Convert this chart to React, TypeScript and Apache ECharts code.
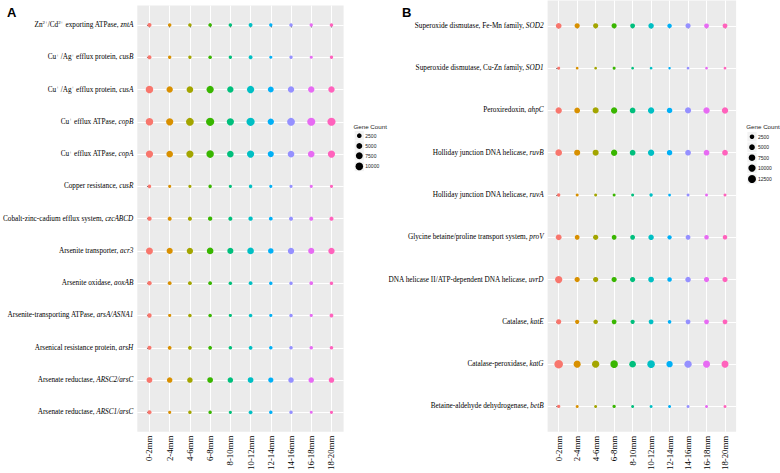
import React, { useEffect, useRef } from 'react';
import * as echarts from 'echarts';

// ---------- shared categories ----------
const depths = ['0-2mm', '2-4mm', '4-6mm', '6-8mm', '8-10mm', '10-12mm', '12-14mm', '14-16mm', '16-18mm', '18-20mm'];
const depthColors = ['#F8766D', '#D89000', '#A3A500', '#39B600', '#00BF7D', '#00BFC4', '#00B0F6', '#9590FF', '#E76BF3', '#FF62BC'];

// ---------- panel A: metal / metalloid resistance genes ----------
const funcA = [
  'Zn^{2+}/Cd^{2+} exporting ATPase, ',
  'Cu^{+} /Ag^{+} efflux protein, ',
  'Cu^{+} /Ag^{+} efflux protein, ',
  'Cu^{+} efflux ATPase, ',
  'Cu^{+} efflux ATPase, ',
  'Copper resistance, ',
  'Cobalt-zinc-cadium efflux system, ',
  'Arsenite transporter, ',
  'Arsenite oxidase, ',
  'Arsenite-transporting ATPase, ',
  'Arsenical resistance protein, ',
  'Arsenate reductase, ',
  'Arsenate reductase, ',
];
const geneA = ['zntA', 'cusB', 'cusA', 'copB', 'copA', 'cusR', 'czcABCD', 'acr3', 'aoxAB', 'arsA/ASNA1', 'arsH', 'ARSC2/arsC', 'ARSC1/arsC'];

const zntA = [1580, 950, 950, 1100, 950, 1400, 780, 950, 780, 950];
const cusB = [1400, 800, 800, 950, 800, 1250, 620, 800, 620, 800];
const cusA = [9700, 6300, 7000, 8860, 6300, 8860, 4780, 6300, 6300, 6300];
const copB = [9700, 8860, 10900, 12000, 8860, 12000, 6300, 10900, 11500, 11800];
const copA = [8860, 7030, 8860, 9700, 7030, 8860, 5630, 7030, 7030, 8860];
const cusR = [950, 620, 620, 950, 620, 950, 620, 620, 620, 620];
const czcABCD = [2080, 1580, 1580, 2080, 1580, 2080, 1250, 1580, 1580, 1580];
const acr3 = [8050, 5630, 6300, 7030, 5630, 7030, 4190, 6300, 5630, 6300];
const aoxAB = [2080, 1250, 1250, 1250, 950, 1250, 950, 950, 1250, 950];
const arsA = [2080, 620, 950, 950, 620, 950, 620, 950, 620, 1250];
const arsH = [1580, 1250, 1250, 1250, 950, 1250, 950, 950, 950, 950];
const ARSC2 = [4780, 4190, 4190, 4780, 4190, 4780, 3640, 4190, 4190, 4190];
const ARSC1 = [1580, 620, 950, 950, 620, 1250, 950, 950, 450, 620];
const rowsA = [zntA, cusB, cusA, copB, copA, cusR, czcABCD, acr3, aoxAB, arsA, arsH, ARSC2, ARSC1];
const legendA = [2500, 5000, 7500, 10000];

// ---------- panel B: oxidative / osmotic stress genes ----------
const funcB = [
  'Superoxide dismutase, Fe-Mn family, ',
  'Superoxide dismutase, Cu-Zn family, ',
  'Peroxiredoxin, ',
  'Holliday junction DNA helicase, ',
  'Holliday junction DNA helicase, ',
  'Glycine betaine/proline transport system, ',
  'DNA helicase II/ATP-dependent DNA helicase, ',
  'Catalase, ',
  'Catalase-peroxidase, ',
  'Betaine-aldehyde dehydrogenase, ',
];
const geneB = ['SOD2', 'SOD1', 'ahpC', 'ruvB', 'ruvA', 'proV', 'uvrD', 'katE', 'katG', 'betB'];

const SOD2 = [5140, 3800, 3800, 3800, 3030, 4440, 2500, 3800, 3030, 3030];
const SOD1 = [470, 280, 280, 470, 280, 280, 140, 280, 280, 280];
const ahpC = [6940, 5140, 6140, 6940, 5140, 6940, 4440, 6140, 6940, 6940];
const ruvB = [7800, 6140, 6140, 6940, 5140, 6940, 4440, 5140, 5140, 5140];
const ruvA = [800, 470, 470, 470, 470, 800, 280, 470, 470, 470];
const proV = [5140, 3030, 3800, 3030, 3030, 4440, 2030, 3030, 2500, 2500];
const uvrD = [10000, 3800, 3800, 3800, 3800, 5140, 2500, 4440, 3800, 3800];
const katE = [3800, 2030, 2500, 3030, 2030, 3030, 1110, 3030, 3030, 3030];
const katG = [14800, 9030, 10000, 11000, 7800, 11000, 6940, 10000, 9030, 9030];
const betB = [800, 470, 470, 800, 470, 470, 470, 470, 470, 470];
const rowsB = [SOD2, SOD1, ahpC, ruvB, ruvA, proV, uvrD, katE, katG, betB];
const legendB = [2500, 5000, 7500, 10000, 12500];

// ---------- helpers ----------
const sizeA = (v: number) => 1.7 + 0.059 * Math.sqrt(v);
const sizeB = (v: number) => 1.8 + 0.055 * Math.sqrt(v);

const SERIF = '"Liberation Serif", "Times New Roman", serif';
const SANS = '"Liberation Sans", Arial, sans-serif';

const toRich = (func: string, gene: string) => {
  const parts = func.split(/\^\{([^}]*)\}/);
  let out = '';
  parts.forEach((p, i) => {
    if (!p) return;
    out += i % 2 === 1 ? `{s|${p}}` : `{n|${p}}`;
  });
  return out + `{i|${gene}}`;
};
const richA = funcA.map((f, i) => toRich(f, geneA[i]));
const richB = funcB.map((f, i) => toRich(f, geneB[i]));

const labelRich = {
  n: { fontFamily: SERIF, fontSize: 7.25, color: '#000000', lineHeight: 9 },
  i: { fontFamily: SERIF, fontSize: 7.25, fontStyle: 'italic', color: '#000000', lineHeight: 9 },
  s: { fontFamily: SERIF, fontSize: 4.8, color: '#000000', verticalAlign: 'top', lineHeight: 5 },
};

const range = (n: number) => Array.from({ length: n }, (_, i) => i);

const tickStyle = { color: '#333333', width: 0.7 };
const splitStyle = { color: '#FFFFFF', width: 1 };

const makeXAxis = (gridIndex: number) => ({
  type: 'value',
  gridIndex,
  z: 0,
  min: -0.6,
  max: depths.length - 1 + 0.6,
  axisLine: { show: false },
  axisTick: { show: true, customValues: range(depths.length), length: 2.5, lineStyle: tickStyle },
  axisLabel: {
    customValues: range(depths.length),
    rotate: 90,
    margin: 4,
    fontFamily: SERIF,
    fontSize: 8.8,
    color: '#000000',
    formatter: (v: number) => depths[Math.round(v)] ?? '',
  },
  splitLine: { show: true, lineStyle: splitStyle },
});

const makeYAxis = (gridIndex: number, rich: string[]) => ({
  type: 'value',
  gridIndex,
  z: 0,
  inverse: true,
  min: -0.6,
  max: rich.length - 1 + 0.6,
  axisLine: { show: false },
  axisTick: { show: true, customValues: range(rich.length), length: 2.5, lineStyle: tickStyle },
  axisLabel: {
    customValues: range(rich.length),
    margin: 4,
    formatter: (v: number) => rich[Math.round(v)] ?? '',
    rich: labelRich,
  },
  splitLine: { show: true, lineStyle: splitStyle },
});

const makeSeries = (gridIdx: number, rows: number[][], sizeFn: (v: number) => number) =>
  depths.map((d, xi) => ({
    type: 'scatter',
    name: d,
    xAxisIndex: gridIdx,
    yAxisIndex: gridIdx,
    z: 10,
    symbol: 'circle',
    symbolSize: (val: number[]) => sizeFn(val[2]),
    itemStyle: { color: depthColors[xi], opacity: 1, borderWidth: 0 },
    emphasis: { disabled: true },
    data: rows.map((row, yi) => [xi, yi, row[xi]]),
    silent: true,
  }));

const makeLegend = (x: number, titleX: number, titleY: number, ys: number[], breaks: number[], sizeFn: (v: number) => number) => {
  const els: any[] = [
    {
      type: 'text',
      x: titleX,
      y: titleY,
      style: { text: 'Gene Count', font: `6.2px ${SANS}`, fill: '#1a1a1a', textVerticalAlign: 'middle' },
    },
  ];
  breaks.forEach((b, i) => {
    const r = sizeFn(b) / 2;
    els.push({
      type: 'rect',
      shape: { x: x - 4.6, y: ys[i] - 4.8, width: 9.2, height: 9.6 },
      style: { fill: '#F2F2F2' },
    });
    els.push({ type: 'circle', shape: { cx: x, cy: ys[i], r }, style: { fill: '#000000' } });
    els.push({
      type: 'text',
      x: x + 6,
      y: ys[i],
      style: { text: String(b), font: `5px ${SANS}`, fill: '#1a1a1a', textVerticalAlign: 'middle' },
    });
  });
  return els;
};

export default function App() {
  const ref = useRef<HTMLDivElement>(null);
  useEffect(() => {
    if (!ref.current) return;
    const chart = echarts.init(ref.current, undefined, { renderer: 'svg' });
    chart.setOption({
      animation: false,
      backgroundColor: '#FFFFFF',
      grid: [
        { left: 134.4, top: 5.6, width: 209.2, height: 426.1, show: true, backgroundColor: '#EBEBEB', borderWidth: 0 },
        { left: 547.6, top: 0.5, width: 188.5, height: 433.3, show: true, backgroundColor: '#EBEBEB', borderWidth: 0 },
      ],
      xAxis: [makeXAxis(0), makeXAxis(1)],
      yAxis: [makeYAxis(0, richA), makeYAxis(1, richB)],
      series: [...makeSeries(0, rowsA, sizeA), ...makeSeries(1, rowsB, sizeB)],
      graphic: [
        { type: 'text', x: 7, y: 6, style: { text: 'A', font: `bold 13px ${SANS}`, fill: '#000' } },
        { type: 'text', x: 402, y: 6, style: { text: 'B', font: `bold 13px ${SANS}`, fill: '#000' } },
        ...makeLegend(359.3, 353.5, 126, [135.7, 146.0, 155.7, 166.4], legendA, sizeA),
        ...makeLegend(752, 746.3, 126, [136.7, 147.2, 157.7, 168.1, 179.0], legendB, sizeB),
      ],
    });
    return () => chart.dispose();
  }, []);
  return <div ref={ref} style={{ position: 'fixed', left: 0, top: 0, width: 780, height: 473 }} />;
}
